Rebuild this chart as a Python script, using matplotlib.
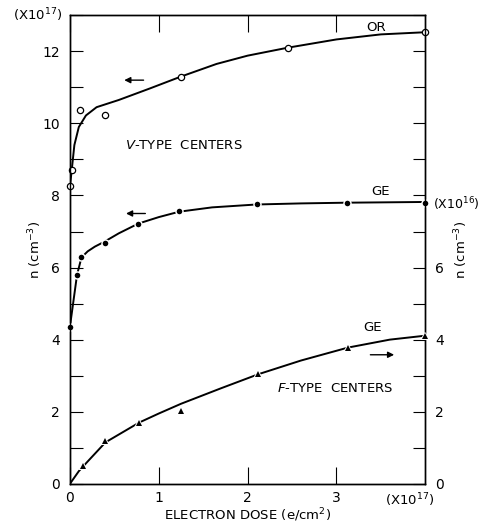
import matplotlib
matplotlib.use("Agg")
import matplotlib.pyplot as plt
from matplotlib.ticker import MultipleLocator, FuncFormatter

# electron dose in units of 1e17 e/cm^2
or_x = [0.0, 0.02, 0.11, 0.39, 1.25, 2.45, 4.0]
or_y = [8.25, 8.7, 10.36, 10.22, 11.3, 12.1, 12.53]
or_curve_x = [0.0, 0.02, 0.05, 0.1, 0.18, 0.3, 0.55, 0.9, 1.25, 1.65, 2.0, 2.45, 3.0, 3.5, 4.0]
or_curve_y = [8.25, 8.7, 9.4, 9.9, 10.22, 10.45, 10.65, 10.97, 11.3, 11.65, 11.88, 12.1, 12.33, 12.47, 12.53]

gev_x = [0.0, 0.08, 0.13, 0.39, 0.77, 1.23, 2.1, 3.12, 4.0]
gev_y = [4.36, 5.8, 6.28, 6.69, 7.22, 7.56, 7.75, 7.8, 7.8]
gev_curve_x = [0.0, 0.08, 0.13, 0.2, 0.28, 0.39, 0.55, 0.77, 1.0, 1.23, 1.6, 2.1, 2.6, 3.12, 4.0]
gev_curve_y = [4.36, 5.8, 6.28, 6.45, 6.58, 6.72, 6.95, 7.22, 7.4, 7.55, 7.67, 7.75, 7.78, 7.8, 7.82]

# F-type, right axis (units of 1e16 cm^-3)
gef_x = [0.15, 0.4, 0.78, 1.25, 2.12, 3.13, 4.0]
gef_y = [0.49, 1.18, 1.70, 2.03, 3.04, 3.78, 4.11]
gef_curve_x = [0.0, 0.1, 0.2, 0.4, 0.78, 1.0, 1.25, 1.7, 2.12, 2.6, 3.13, 3.6, 4.0]
gef_curve_y = [0.0, 0.35, 0.62, 1.15, 1.70, 1.95, 2.22, 2.65, 3.04, 3.42, 3.78, 4.0, 4.11]

plt.rcParams["font.family"] = "DejaVu Sans"
fig = plt.figure(figsize=(4.79, 5.27), dpi=100)
ax = fig.add_axes([0.146, 0.082, 0.742, 0.889])
ax2 = ax.twinx()

lw = 1.4
ax.plot(or_curve_x, or_curve_y, color="black", lw=lw, zorder=2)
ax.plot(or_x, or_y, "o", ms=4.5, mfc="white", mec="black", mew=0.9, zorder=3, clip_on=False)

ax.plot(gev_curve_x, gev_curve_y, color="black", lw=lw, zorder=2)
ax.plot(gev_x, gev_y, "o", ms=4.5, mfc="black", mec="white", mew=1.6, zorder=3, clip_on=False)
ax.plot(gev_x, gev_y, "o", ms=4.0, mfc="black", mec="black", mew=0, zorder=4, clip_on=False)

ax2.plot(gef_curve_x, gef_curve_y, color="black", lw=lw, zorder=2)
ax2.plot(gef_x, gef_y, "^", ms=5, mfc="black", mec="white", mew=1.4, zorder=3, clip_on=False)
ax2.plot(gef_x, gef_y, "^", ms=4.5, mfc="black", mec="black", mew=0, zorder=4, clip_on=False)

ax.set_xlim(0, 4)
ax.set_ylim(0, 13)
ax2.set_ylim(0, 13)

# ticks
ax.set_xticks([0, 1, 2, 3])
ax.tick_params(axis="x", direction="in", length=12, width=0.8, top=True, labelsize=10, pad=5)
ax.yaxis.set_major_locator(MultipleLocator(2))
ax.yaxis.set_minor_locator(MultipleLocator(1))
ax.tick_params(axis="y", which="both", direction="in", length=9, width=0.8, labelsize=10, pad=7)
ax2.yaxis.set_major_locator(MultipleLocator(2))
ax2.yaxis.set_minor_locator(MultipleLocator(1))
ax2.yaxis.set_major_formatter(FuncFormatter(lambda v, p: f"{int(v)}" if v <= 6 else ""))
ax2.tick_params(axis="y", which="both", direction="in", length=9, width=0.8, labelsize=10, pad=7)
for a in (ax, ax2):
    for s in a.spines.values():
        s.set_linewidth(1.0)

# labels
ax.set_xlabel("ELECTRON DOSE (e/cm$^2$)", fontsize=9.5, labelpad=1)
ax.set_ylabel("n (cm$^{-3}$)", fontsize=9.5, labelpad=-1)
ax2.set_ylabel("n (cm$^{-3}$)", fontsize=9.5, labelpad=6)
fig.text(0.078, 0.972, "(X10$^{17}$)", fontsize=9.5, ha="center", va="center")
fig.text(0.856, 0.051, "(X10$^{17}$)", fontsize=9.5, ha="center", va="center")
fig.text(0.952, 0.613, "(X10$^{16}$)", fontsize=9, ha="center", va="center")

# annotations
ax.text(3.45, 12.65, "OR", fontsize=9.5, ha="center", va="center")
ax.text(3.5, 8.1, "GE", fontsize=9.5, ha="center", va="center")
ax.text(3.4, 4.35, "GE", fontsize=9.5, ha="center", va="center")
ax.text(0.62, 9.4, "$V$-TYPE  CENTERS", fontsize=9.5, ha="left", va="center")
ax.text(2.33, 2.64, "$F$-TYPE  CENTERS", fontsize=9.5, ha="left", va="center")

arrow = dict(arrowstyle="-|>", color="black", lw=1.0, mutation_scale=9)
ax.annotate("", xy=(0.58, 11.2), xytext=(0.86, 11.2), arrowprops=arrow)
ax.annotate("", xy=(0.6, 7.5), xytext=(0.88, 7.5), arrowprops=arrow)
ax.annotate("", xy=(3.68, 3.58), xytext=(3.35, 3.58), arrowprops=arrow)

fig.savefig("out.png", dpi=100)
